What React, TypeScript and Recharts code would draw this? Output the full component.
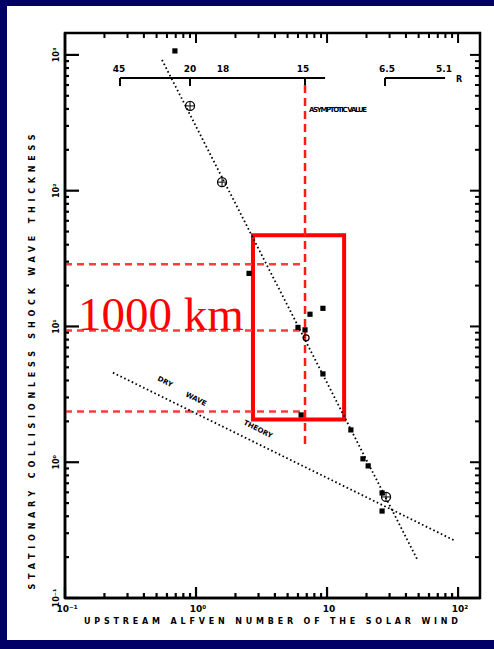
import React from 'react';
import { ScatterChart, Scatter, XAxis, YAxis, ReferenceLine, ReferenceArea } from 'recharts';

const W = 494;
const H = 649;

// ---- axes ----
const xDomain = [0.1, 147];
const yDomain = [0.1, 1450];
const xMajorTicks = [0.1, 1, 10, 100];
const xTickLabels = ['10\u207B\u00B9', '10\u2070', '10', '10\u00B2'];
const yMajorTicks = [0.1, 1, 10, 100, 1000];
const yTickLabels = ['10\u207B\u00B9', '10\u2070', '10\u00B9', '10\u00B2', '10\u00B3'];
const minorMultipliers = [2, 3, 4, 5, 6, 7, 8, 9];

// ---- data ----
const squarePoints = [
  { x: 0.69, y: 1070 },
  { x: 2.54, y: 24.6 },
  { x: 6.0, y: 9.84 },
  { x: 7.41, y: 12.3 },
  { x: 9.3, y: 13.6 },
  { x: 6.79, y: 9.44 },
  { x: 9.3, y: 4.47 },
  { x: 6.34, y: 2.23 },
  { x: 15.2, y: 1.73 },
  { x: 18.8, y: 1.06 },
  { x: 20.6, y: 0.94 },
  { x: 26.3, y: 0.594 },
  { x: 26.3, y: 0.437 },
];
const crossCirclePoints = [
  { x: 0.9, y: 421 },
  { x: 1.58, y: 115.6 },
  { x: 28.2, y: 0.555 },
];
const openCirclePoints = [
  { x: 6.92, y: 8.24 },
];
const steepFit = [
  { x: 0.55, y: 919 },
  { x: 48.6, y: 0.194 },
];
const shallowTheory = [
  { x: 0.232, y: 4.57 },
  { x: 94.8, y: 0.264 },
];

// ---- highlight (red) ----
const boxX = [2.72, 13.5];
const boxY = [2.06, 47];
const markerX = 6.79;
const markerYRange = [1.34, 600];
const levelY = [28.7, 9.33, 2.36];
const levelXRange = [0.1, 6.3];

// ---- secondary distance scale ----
const scaleY = 676;
const scaleTickBottom = 590;
const scaleSegments = [
  [0.263, 9.66],
  [27.7, 79.6],
];
const scaleTicks = [0.263, 0.9, 6.79, 27.7];

const buildTicks = (majors: number[], max: number) => {
  const out: number[] = [];
  majors.forEach((m) => {
    out.push(m);
    minorMultipliers.forEach((k) => {
      const v = m * k;
      if (v <= max) out.push(v);
    });
  });
  return out.filter((v) => v <= max);
};
const xTicks = buildTicks(xMajorTicks, xDomain[1]);
const yTicks = buildTicks(yMajorTicks, yDomain[1]);

const isMajor = (v: number) => Math.abs(Math.log10(v) - Math.round(Math.log10(v))) < 1e-6;
const majorIndex = (v: number, majors: number[]) =>
  majors.findIndex((m) => Math.abs(Math.log10(v) - Math.log10(m)) < 1e-6);

const pxPerDecadeX = 131;
const pxPerDecadeY = 135.77;
const topTickFactor = (maj: boolean) => Math.pow(10, (maj ? 10 : 5) / pxPerDecadeY);
const rightTickFactor = (maj: boolean) => Math.pow(10, (maj ? 10 : 5) / pxPerDecadeX);

const BottomTick = (p: any) => {
  const { x, y, payload } = p;
  const i = majorIndex(payload.value, xMajorTicks);
  const len = i >= 0 ? 11 : 5;
  return (
    <g>
      <path d={`M${x},${y}V${y - len}`} stroke="#000000" strokeWidth={2.2} fill="none" />
      {i >= 0 ? (
        <text x={x + 2} y={y + 14} fontSize={9} fontWeight="bold" fontFamily="DejaVu Sans" textAnchor="middle" fill="#000">
          {xTickLabels[i]}
        </text>
      ) : null}
    </g>
  );
};
const LeftTick = (p: any) => {
  const { x, y, payload } = p;
  const i = majorIndex(payload.value, yMajorTicks);
  const len = i >= 0 ? 14 : 4;
  const tx = x - 6;
  return (
    <g>
      <path d={`M${x},${y}H${x + len}`} stroke="#000000" strokeWidth={2.2} fill="none" />
      {i >= 0 ? (
        <text x={tx} y={y} transform={`rotate(-90 ${tx} ${y})`} fontSize={8} fontWeight="bold" fontFamily="DejaVu Sans" textAnchor="middle" fill="#000">
          {yTickLabels[i]}
        </text>
      ) : null}
    </g>
  );
};

const Square = (p: any) => {
  const { cx, cy } = p;
  if (cx == null || cy == null) return <g />;
  return <rect x={cx - 2.6} y={cy - 2.6} width={5.2} height={5.2} fill="#000" />;
};
const CrossCircle = (p: any) => {
  const { cx, cy } = p;
  if (cx == null || cy == null) return <g />;
  return (
    <g>
      <circle cx={cx} cy={cy} r={4.5} fill="none" stroke="#000" strokeWidth={1.3} />
      <path d={`M${cx - 4},${cy} H${cx + 4} M${cx},${cy - 4} V${cy + 4}`} stroke="#000" strokeWidth={1} />
    </g>
  );
};
const OpenCircle = (p: any) => {
  const { cx, cy } = p;
  if (cx == null || cy == null) return <g />;
  return <circle cx={cx} cy={cy} r={3} fill="none" stroke="#000" strokeWidth={1.2} />;
};
const NoShape = () => <g />;

const dotted = { stroke: '#000', strokeWidth: 1.8, strokeDasharray: '1.6 2.6' };
const redDash = { stroke: '#ff3b3b', strokeWidth: 2.5, strokeDasharray: '7 5' };
const txt = { fontFamily: 'DejaVu Sans', fontWeight: 'bold' as const, fill: '#000' };

export default function App() {
  return (
    <div style={{ position: 'absolute', left: 0, top: 0, width: W, height: H, background: '#000066' }}>
      <div style={{ position: 'absolute', left: 7, top: 6, width: W - 7, height: 634, background: '#ffffff' }} />
      <div style={{ position: 'absolute', left: 0, top: 0 }}>
        <ScatterChart width={W} height={H} margin={{ top: 33, right: 14, bottom: 0, left: 0 }}>
          <XAxis
            dataKey="x"
            type="number"
            scale="log"
            domain={xDomain}
            allowDataOverflow
            ticks={xTicks}
            interval={0}
            height={51}
            tickSize={0}
            tickMargin={0}
            tickLine={false}
            tick={BottomTick}
            axisLine={{ stroke: '#000000', strokeWidth: 2.5 }}
          />
          <YAxis
            dataKey="y"
            type="number"
            scale="log"
            domain={yDomain}
            allowDataOverflow
            ticks={yTicks}
            interval={0}
            width={65}
            tickSize={0}
            tickMargin={0}
            tickLine={false}
            tick={LeftTick}
            axisLine={{ stroke: '#000000', strokeWidth: 2.5 }}
          />

          {/* plot frame */}
          <ReferenceArea
            x1={xDomain[0]}
            x2={xDomain[1]}
            y1={yDomain[0]}
            y2={yDomain[1]}
            fill="none"
            fillOpacity={0}
            stroke="#000000"
            strokeWidth={2.5}
            ifOverflow="visible"
          />
          {xTicks.map((t, i) => (
            <ReferenceLine
              key={`tt${i}`}
              segment={[{ x: t, y: yDomain[1] }, { x: t, y: yDomain[1] / topTickFactor(isMajor(t)) }]}
              stroke="#000000"
              strokeWidth={2}
              ifOverflow="visible"
            />
          ))}
          {yTicks.map((t, i) => (
            <ReferenceLine
              key={`rt${i}`}
              segment={[{ x: xDomain[1], y: t }, { x: xDomain[1] / rightTickFactor(isMajor(t)), y: t }]}
              stroke="#000000"
              strokeWidth={2}
              ifOverflow="visible"
            />
          ))}

          {scaleSegments.map((s, i) => (
            <ReferenceLine key={`seg${i}`} segment={[{ x: s[0], y: scaleY }, { x: s[1], y: scaleY }]} stroke="#000" strokeWidth={2} ifOverflow="visible" />
          ))}
          {scaleTicks.map((t, i) => (
            <ReferenceLine key={`st${i}`} segment={[{ x: t, y: scaleY }, { x: t, y: scaleTickBottom }]} stroke="#000" strokeWidth={2} ifOverflow="visible" />
          ))}

          <Scatter data={steepFit} line={dotted} shape={NoShape} isAnimationActive={false} />
          <Scatter data={shallowTheory} line={dotted} shape={NoShape} isAnimationActive={false} />
          <Scatter data={squarePoints} shape={Square} isAnimationActive={false} />
          <Scatter data={crossCirclePoints} shape={CrossCircle} isAnimationActive={false} />
          <Scatter data={openCirclePoints} shape={OpenCircle} isAnimationActive={false} />

          {levelY.map((v, i) => (
            <ReferenceLine key={`lv${i}`} segment={[{ x: levelXRange[0], y: v }, { x: levelXRange[1], y: v }]} {...redDash} ifOverflow="visible" />
          ))}
          <ReferenceLine
            segment={[{ x: markerX, y: markerYRange[1] }, { x: markerX, y: markerYRange[0] }]}
            stroke="#ff1a1a"
            strokeWidth={2.5}
            strokeDasharray="8 5"
            ifOverflow="visible"
          />
          <ReferenceArea x1={boxX[0]} x2={boxX[1]} y1={boxY[0]} y2={boxY[1]} fill="none" fillOpacity={0} stroke="#ff0000" strokeWidth={4} ifOverflow="visible" />
        </ScatterChart>
      </div>
      <svg width={W} height={H} style={{ position: 'absolute', left: 0, top: 0, pointerEvents: 'none' }}>
        <text x={35} y={362} transform="rotate(-90 35 362)" fontSize={8} textAnchor="middle" textLength={455} lengthAdjust="spacing" {...txt}>
          STATIONARY COLLISIONLESS SHOCK WAVE THICKNESS
        </text>
        <text x={271} y={624} fontSize={8} textAnchor="middle" textLength={374} lengthAdjust="spacing" {...txt}>
          UPSTREAM ALFVEN NUMBER OF THE SOLAR WIND
        </text>
        <text x={119} y={72} fontSize={9} textAnchor="middle" {...txt}>45</text>
        <text x={190} y={72} fontSize={9} textAnchor="middle" {...txt}>20</text>
        <text x={223} y={72} fontSize={9} textAnchor="middle" {...txt}>18</text>
        <text x={303} y={72} fontSize={9} textAnchor="middle" {...txt}>15</text>
        <text x={387} y={72} fontSize={9} textAnchor="middle" {...txt}>6.5</text>
        <text x={444} y={72} fontSize={9} textAnchor="middle" {...txt}>5.1</text>
        <text x={459} y={82} fontSize={8} textAnchor="middle" {...txt}>R</text>
        <text x={309} y={112} fontSize={7} textLength={58} lengthAdjust="spacing" {...txt}>ASYMPTOTIC VALUE</text>
        <text x={157} y={380} fontSize={7} transform="rotate(27 157 380)" {...txt}>DRY</text>
        <text x={185} y={396} fontSize={7} transform="rotate(27 185 396)" {...txt}>WAVE</text>
        <text x={243} y={424} fontSize={7} transform="rotate(27 243 424)" {...txt}>THEORY</text>
        <text x={78} y={330} fontSize={47} fontFamily="Liberation Serif" fill="#ff0000">1000 km</text>
      </svg>
    </div>
  );
}
